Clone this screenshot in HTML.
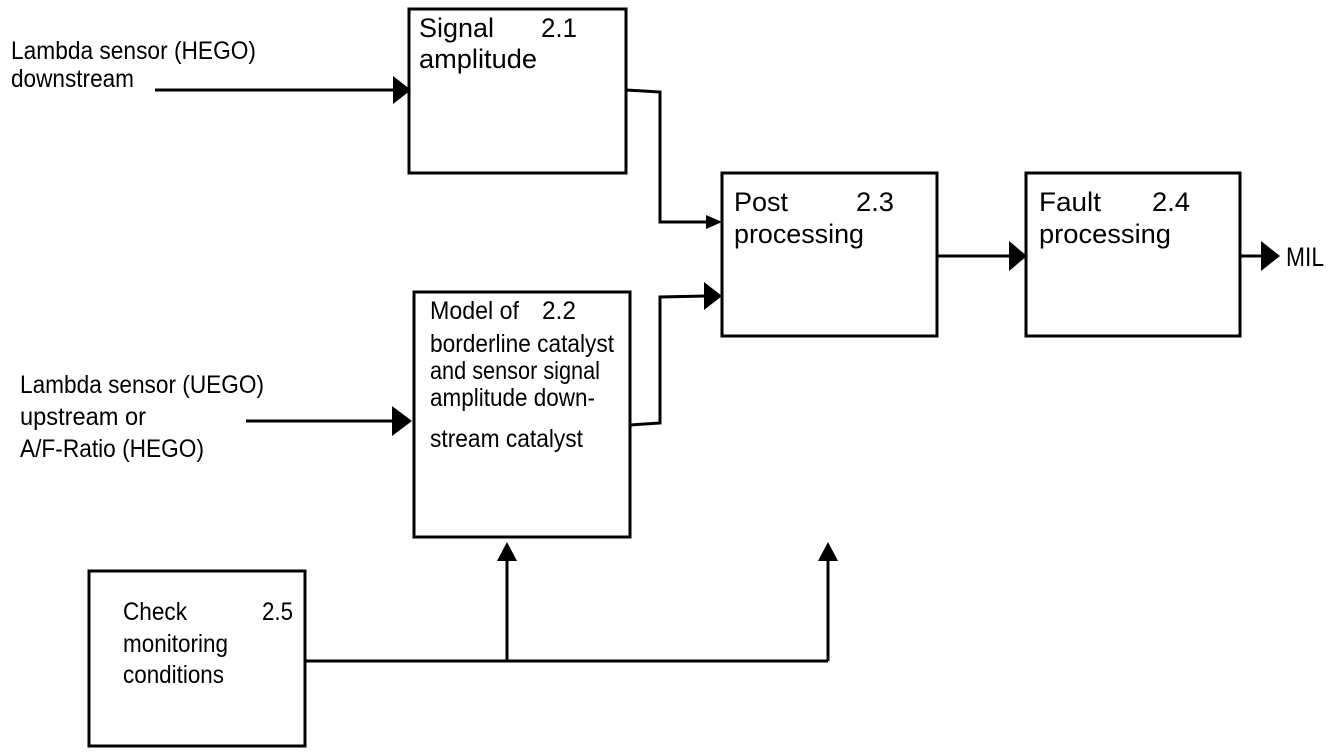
<!DOCTYPE html>
<html><head><meta charset="utf-8"><style>
html,body{margin:0;padding:0;background:#fff;}
svg{display:block;}
text{font-family:"Liberation Sans",Arial,sans-serif;fill:#000;}
</style></head><body>
<svg width="1344" height="756" viewBox="0 0 1344 756" xmlns="http://www.w3.org/2000/svg">
<g fill="none" stroke="#000" stroke-width="3">
<rect x="409" y="9" width="217" height="164"/>
<rect x="722" y="173" width="215" height="163"/>
<rect x="1026" y="173" width="214" height="163"/>
<rect x="414" y="292" width="216" height="245"/>
<rect x="89" y="571" width="216" height="175"/>
<polyline points="155,90 396,90"/>
<polyline points="626,90 660,92 660,222 706,222"/>
<polyline points="630,425 660,423 660,297 706,296"/>
<polyline points="937,256 1012,256"/>
<polyline points="1240,256 1264,256"/>
<polyline points="246,421 396,421"/>
<polyline points="305,661 828,661"/>
<polyline points="507,661 507,558"/>
<polyline points="828,661 828,558"/>
</g>
<g fill="#000">
<polygon points="393,76 411,90 393,104"/>
<polygon points="706,215 722,222 706,229"/>
<polygon points="704,282 722,296 704,310"/>
<polygon points="1009,241 1027,256 1009,271"/>
<polygon points="1261,241 1280,256 1261,271"/>
<polygon points="392,406 412,421 392,436"/>
<polygon points="497,561 507,542 517,561"/>
<polygon points="818,561 828,542 838,561"/>
</g>
<g font-size="25">
<text x="11" y="59" textLength="245" lengthAdjust="spacingAndGlyphs">Lambda sensor (HEGO)</text>
<text x="11" y="87" textLength="123" lengthAdjust="spacingAndGlyphs">downstream</text>
<text x="20" y="393" textLength="244" lengthAdjust="spacingAndGlyphs">Lambda sensor (UEGO)</text>
<text x="20" y="425" textLength="126" lengthAdjust="spacingAndGlyphs">upstream  or</text>
<text x="20" y="457" textLength="184" lengthAdjust="spacingAndGlyphs">A/F-Ratio (HEGO)</text>
<text x="123" y="620" textLength="64" lengthAdjust="spacingAndGlyphs">Check</text>
<text x="262" y="620" textLength="31" lengthAdjust="spacingAndGlyphs">2.5</text>
<text x="123" y="652" textLength="105" lengthAdjust="spacingAndGlyphs">monitoring</text>
<text x="123" y="683" textLength="101" lengthAdjust="spacingAndGlyphs">conditions</text>
<text x="430" y="319" textLength="89" lengthAdjust="spacingAndGlyphs">Model of</text>
<text x="542" y="319" textLength="34" lengthAdjust="spacingAndGlyphs">2.2</text>
<text x="430" y="352" textLength="184" lengthAdjust="spacingAndGlyphs">borderline catalyst</text>
<text x="430" y="379" textLength="170" lengthAdjust="spacingAndGlyphs">and sensor signal</text>
<text x="430" y="406" textLength="165" lengthAdjust="spacingAndGlyphs">amplitude down-</text>
<text x="430" y="447" textLength="153" lengthAdjust="spacingAndGlyphs">stream catalyst</text>
</g>
<g font-size="27">
<text x="419" y="37" textLength="75" lengthAdjust="spacingAndGlyphs">Signal</text>
<text x="541" y="37" textLength="36" lengthAdjust="spacingAndGlyphs">2.1</text>
<text x="419" y="68" textLength="118" lengthAdjust="spacingAndGlyphs">amplitude</text>
<text x="734" y="211" textLength="54" lengthAdjust="spacingAndGlyphs">Post</text>
<text x="856" y="211" textLength="38" lengthAdjust="spacingAndGlyphs">2.3</text>
<text x="734" y="243" textLength="130" lengthAdjust="spacingAndGlyphs">processing</text>
<text x="1039" y="211" textLength="62" lengthAdjust="spacingAndGlyphs">Fault</text>
<text x="1152" y="211" textLength="38" lengthAdjust="spacingAndGlyphs">2.4</text>
<text x="1039" y="243" textLength="132" lengthAdjust="spacingAndGlyphs">processing</text>
<text x="1286" y="266" textLength="38" lengthAdjust="spacingAndGlyphs">MIL</text>
</g>
</svg>
</body></html>
